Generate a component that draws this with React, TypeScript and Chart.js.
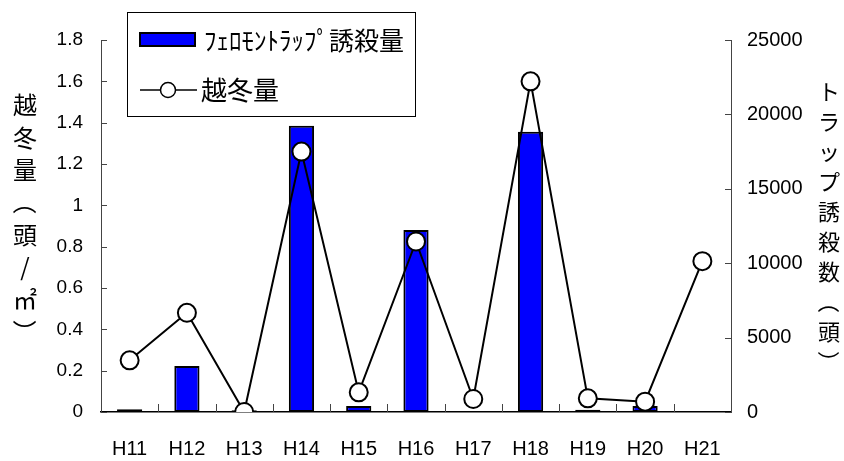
import React, { useEffect, useRef } from "react";
import { Chart, registerables } from "chart.js";

Chart.register(...registerables);

const categories = ["H11", "H12", "H13", "H14", "H15", "H16", "H17", "H18", "H19", "H20", "H21"];
const trapCatch: (number | null)[] = [180, 3090, 120, 19240, 400, 12230, 0, 18840, 150, 400, null];
const overwinter: (number | null)[] = [0.25, 0.48, 0, 1.26, 0.095, 0.825, 0.063, 1.6, 0.066, 0.05, 0.73];
const leftTicks = [0, 0.2, 0.4, 0.6, 0.8, 1, 1.2, 1.4, 1.6, 1.8];
const leftTickLabels = ["0", "0.2", "0.4", "0.6", "0.8", "1", "1.2", "1.4", "1.6", "1.8"];
const rightTicks = [0, 5000, 10000, 15000, 20000, 25000];
const rightTickLabels = ["0", "5000", "10000", "15000", "20000", "25000"];
const barLabel = "ﾌｪﾛﾓﾝﾄﾗｯﾌﾟ誘殺量";
const lineLabel = "越冬量";
const leftTitle = ["越", "冬", "量", "（", "頭", "/", "㎡", "）"];
const rightTitle = ["ト", "ラ", "ッ", "プ", "誘", "殺", "数", "（", "頭", "）"];

const NUM_FONT = '"Liberation Sans", Arial, sans-serif';
const CJK_FONT = '"Noto Sans CJK JP", "Noto Sans", sans-serif';

function drawVerticalChar(ctx: CanvasRenderingContext2D, ch: string, x: number, y: number) {
  if (ch === "（" || ch === "）") {
    ctx.save();
    ctx.translate(x, y);
    ctx.rotate(Math.PI / 2);
    ctx.fillText(ch, 0, 0);
    ctx.restore();
  } else {
    ctx.fillText(ch, x, y);
  }
}

const decorPlugin = {
  id: "decor",
  afterDraw(chart: any) {
    const ctx = chart.ctx as CanvasRenderingContext2D;
    const xs = chart.scales.x;
    const ys = chart.scales.y;
    const y1 = chart.scales.y1;
    ctx.save();
    ctx.strokeStyle = "#444";
    ctx.lineWidth = 1;
    const n = categories.length;
    const step = (xs.right - xs.left) / n;
    for (let i = 1; i < n; i++) {
      const x = Math.round(xs.left + i * step) + 0.5;
      ctx.beginPath();
      ctx.moveTo(x, xs.top);
      ctx.lineTo(x, xs.top - 8);
      ctx.stroke();
    }
    for (const v of leftTicks) {
      const y = Math.round(ys.getPixelForValue(v)) + 0.5;
      ctx.beginPath();
      ctx.moveTo(ys.right, y);
      ctx.lineTo(ys.right + 6, y);
      ctx.stroke();
    }
    for (const v of rightTicks) {
      const y = Math.round(y1.getPixelForValue(v)) + 0.5;
      ctx.beginPath();
      ctx.moveTo(y1.left - 6, y);
      ctx.lineTo(y1.left, y);
      ctx.stroke();
    }
    // legend
    ctx.strokeStyle = "#000";
    ctx.lineWidth = 1;
    ctx.fillStyle = "#fff";
    ctx.fillRect(127, 12, 288, 104);
    ctx.strokeRect(127.5, 12.5, 288, 104);
    ctx.fillStyle = "#0000ff";
    ctx.fillRect(140, 33, 55, 13);
    ctx.lineWidth = 2;
    ctx.strokeRect(140, 33, 55, 13);
    ctx.fillStyle = "#000";
    ctx.textBaseline = "middle";
    ctx.textAlign = "left";
    ctx.font = `25px ${CJK_FONT}`;
    ctx.fillText(barLabel, 204, 40);
    ctx.lineWidth = 1.5;
    ctx.beginPath();
    ctx.moveTo(140, 90);
    ctx.lineTo(197, 90);
    ctx.stroke();
    ctx.beginPath();
    ctx.arc(168, 90, 7.5, 0, Math.PI * 2);
    ctx.fillStyle = "#fff";
    ctx.fill();
    ctx.stroke();
    ctx.fillStyle = "#000";
    ctx.font = `26px ${CJK_FONT}`;
    ctx.fillText(lineLabel, 201, 90);
    // vertical axis titles
    ctx.textAlign = "center";
    ctx.font = `24px ${CJK_FONT}`;
    leftTitle.forEach((ch, i) => drawVerticalChar(ctx, ch, 25, 105 + i * 32.4));
    ctx.font = `22px ${CJK_FONT}`;
    rightTitle.forEach((ch, i) => drawVerticalChar(ctx, ch, 829, 92 + i * 30));
    ctx.restore();
  },
};

export default function App() {
  const ref = useRef<HTMLCanvasElement | null>(null);
  useEffect(() => {
    document.body.style.margin = "0";
    if (!ref.current) return;
    const chart = new Chart(ref.current, {
      type: "bar",
      data: {
        labels: categories,
        datasets: [
          {
            type: "line",
            label: lineLabel,
            data: overwinter,
            yAxisID: "y",
            borderColor: "#000",
            borderWidth: 2,
            pointRadius: 9,
            pointBorderWidth: 2,
            pointBackgroundColor: "#fff",
            pointBorderColor: "#000",
            tension: 0,
            order: 0,
          } as any,
          {
            type: "bar",
            label: barLabel,
            data: trapCatch,
            yAxisID: "y1",
            backgroundColor: "#0000ff",
            borderColor: "#000",
            borderWidth: 2,
            borderSkipped: false,
            categoryPercentage: 1,
            barPercentage: 0.44,
            order: 1,
          } as any,
        ],
      },
      options: {
        responsive: false,
        animation: false,
        devicePixelRatio: 1,
        layout: { padding: { top: 40, left: 0, right: 0, bottom: 0 } },
        plugins: { legend: { display: false }, tooltip: { enabled: false } },
        scales: {
          x: {
            type: "category",
            offset: true,
            grid: { display: false, drawTicks: false },
            border: { display: true, color: "#000", width: 1.5 },
            ticks: { color: "#000", font: { family: NUM_FONT, size: 20 }, padding: 25, maxRotation: 0 },
            afterFit(scale: any) {
              scale.height = 49;
            },
          },
          y: {
            position: "left",
            min: 0,
            max: 1.8,
            grid: { display: false, drawTicks: false },
            border: { display: true, color: "#444", width: 1 },
            afterBuildTicks(scale: any) {
              scale.ticks = leftTicks.map((v) => ({ value: v }));
            },
            ticks: {
              color: "#000",
              font: { family: NUM_FONT, size: 19 },
              padding: 18,
              callback: (_v: any, i: number) => leftTickLabels[i],
            },
            afterFit(scale: any) {
              scale.width = 101;
            },
          },
          y1: {
            position: "right",
            min: 0,
            max: 25000,
            grid: { display: false, drawTicks: false },
            border: { display: true, color: "#444", width: 1 },
            afterBuildTicks(scale: any) {
              scale.ticks = rightTicks.map((v) => ({ value: v }));
            },
            ticks: {
              color: "#000",
              font: { family: NUM_FONT, size: 20 },
              padding: 16,
              callback: (_v: any, i: number) => rightTickLabels[i],
            },
            afterFit(scale: any) {
              scale.width = 113;
            },
          },
        },
      },
      plugins: [decorPlugin],
    });
    return () => chart.destroy();
  }, []);
  return (
    <div style={{ width: 844, height: 461, background: "#fff" }}>
      <canvas ref={ref} width={844} height={461} style={{ display: "block" }} />
    </div>
  );
}
